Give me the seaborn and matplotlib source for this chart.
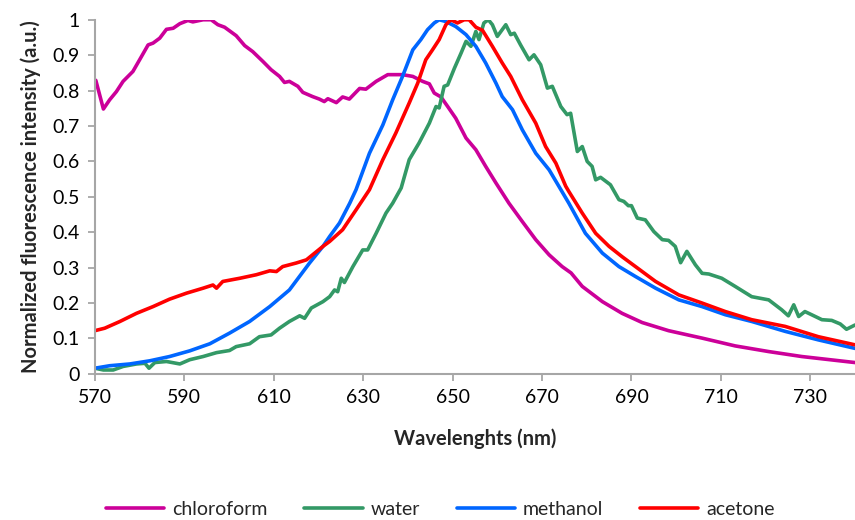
import numpy as np
import pandas as pd
import matplotlib
matplotlib.use("Agg")
import matplotlib.pyplot as plt
import seaborn as sns

# spectra (wavelength in nm, normalized intensity)
chloroform_nm = [570.2, 571.9, 573.3, 574.8, 576.3, 578.5, 580.0, 581.9, 583.0, 584.5,
                 586.0, 587.5, 589.0, 590.8, 591.9, 594.2, 596.0, 597.5, 599.0, 601.6,
                 603.5, 605.3, 607.6, 609.4, 611.3, 612.4, 613.5, 615.4, 616.5, 618.7,
                 620.2, 621.3, 622.1, 624.0, 625.4, 626.9, 629.2, 630.6, 632.9, 635.5,
                 638.8, 641.1, 643.3, 644.8, 645.9, 647.4, 648.9, 650.7, 653.0, 655.2,
                 657.4, 659.7, 662.6, 665.6, 668.6, 671.6, 674.5, 676.5, 679.0, 683.5,
                 687.9, 692.4, 698.3, 705.8, 713.2, 720.7, 728.1, 740.0]
chloroform_y = [0.829, 0.748, 0.774, 0.797, 0.826, 0.854, 0.887, 0.929, 0.934, 0.948,
                0.973, 0.976, 0.989, 0.998, 0.994, 1.000, 1.000, 0.986, 0.979, 0.955,
                0.927, 0.910, 0.882, 0.859, 0.840, 0.823, 0.826, 0.812, 0.795, 0.783,
                0.776, 0.769, 0.777, 0.766, 0.782, 0.776, 0.806, 0.804, 0.826, 0.845,
                0.845, 0.840, 0.826, 0.819, 0.793, 0.782, 0.755, 0.722, 0.666, 0.633,
                0.586, 0.539, 0.482, 0.430, 0.379, 0.336, 0.303, 0.285, 0.247, 0.204,
                0.171, 0.145, 0.122, 0.101, 0.079, 0.063, 0.049, 0.032]

water_nm = [570.0, 571.9, 574.1, 576.3, 579.3, 581.2, 582.1, 583.4, 586.0, 589.0,
            591.2, 594.2, 597.2, 600.1, 601.6, 604.6, 606.8, 609.4, 611.3, 613.5,
            615.8, 616.9, 618.4, 621.0, 622.5, 623.6, 624.3, 625.1, 625.8, 627.7,
            629.9, 631.0, 632.9, 635.1, 636.6, 638.5, 640.3, 642.5, 644.8, 646.3,
            647.0, 648.1, 648.9, 650.4, 651.9, 653.0, 654.1, 655.2, 655.9, 657.0,
            658.0, 658.9, 660.0, 661.9, 663.0, 663.8, 665.2, 667.1, 668.2, 669.7,
            671.2, 672.3, 674.2, 675.6, 676.4, 677.9, 679.0, 680.1, 681.2, 682.0,
            683.1, 685.3, 687.2, 688.3, 689.3, 690.0, 691.3, 693.1, 695.0, 696.9,
            698.3, 699.8, 701.0, 702.4, 704.3, 705.8, 707.3, 710.2, 713.2, 716.9,
            720.7, 723.6, 725.1, 726.3, 727.4, 728.8, 730.3, 732.6, 734.8, 736.7,
            738.1, 740.0]
water_y = [0.016, 0.011, 0.011, 0.021, 0.028, 0.030, 0.016, 0.032, 0.035, 0.028,
           0.040, 0.049, 0.060, 0.066, 0.077, 0.085, 0.105, 0.110, 0.129, 0.148,
           0.164, 0.157, 0.186, 0.204, 0.218, 0.237, 0.232, 0.270, 0.258, 0.303,
           0.350, 0.350, 0.397, 0.454, 0.482, 0.525, 0.605, 0.652, 0.708, 0.755,
           0.751, 0.812, 0.816, 0.863, 0.906, 0.939, 0.925, 0.967, 0.944, 0.991,
           1.000, 0.986, 0.953, 0.986, 0.958, 0.962, 0.929, 0.887, 0.901, 0.873,
           0.807, 0.812, 0.755, 0.732, 0.736, 0.628, 0.642, 0.600, 0.586, 0.548,
           0.555, 0.534, 0.492, 0.487, 0.475, 0.475, 0.440, 0.435, 0.402, 0.379,
           0.377, 0.360, 0.314, 0.346, 0.308, 0.284, 0.282, 0.270, 0.247, 0.218,
           0.209, 0.181, 0.164, 0.195, 0.162, 0.176, 0.167, 0.153, 0.151, 0.141,
           0.126, 0.138]

methanol_nm = [570.0, 573.3, 577.8, 582.3, 586.7, 591.2, 595.7, 600.1, 604.6, 609.1,
               613.5, 618.0, 621.0, 622.5, 624.7, 627.0, 628.4, 631.4, 634.4, 636.6,
               638.8, 641.1, 642.9, 644.4, 645.9, 647.0, 648.5, 650.7, 653.0, 655.2,
               657.4, 659.7, 661.1, 663.4, 665.6, 668.6, 671.6, 673.8, 676.0, 679.7,
               683.5, 687.2, 690.9, 695.4, 700.6, 705.8, 711.0, 716.9, 724.4, 731.8,
               740.0]
methanol_y = [0.016, 0.023, 0.028, 0.037, 0.049, 0.065, 0.085, 0.115, 0.148, 0.190,
              0.237, 0.313, 0.360, 0.388, 0.426, 0.482, 0.520, 0.623, 0.703, 0.774,
              0.840, 0.915, 0.944, 0.972, 0.991, 1.000, 0.995, 0.981, 0.958, 0.925,
              0.878, 0.821, 0.783, 0.746, 0.689, 0.623, 0.576, 0.529, 0.482, 0.397,
              0.341, 0.303, 0.275, 0.242, 0.209, 0.190, 0.167, 0.148, 0.120, 0.096,
              0.072]

acetone_nm = [570.0, 572.2, 575.6, 579.3, 583.0, 586.7, 590.5, 594.2, 596.4, 597.2,
              598.6, 602.4, 606.1, 609.1, 610.6, 612.0, 615.0, 617.3, 621.0, 622.5,
              625.4, 628.4, 631.4, 634.4, 637.3, 640.3, 642.2, 644.0, 645.5, 647.0,
              648.5, 649.6, 651.1, 652.6, 653.7, 655.2, 656.7, 658.9, 661.1, 663.0,
              665.6, 668.6, 670.8, 673.1, 675.3, 676.0, 679.0, 682.0, 685.0, 687.9,
              690.9, 695.4, 700.6, 705.8, 711.0, 716.9, 724.4, 731.8, 740.0]
acetone_y = [0.122, 0.129, 0.148, 0.171, 0.190, 0.211, 0.228, 0.242, 0.251, 0.242,
             0.261, 0.270, 0.280, 0.291, 0.289, 0.303, 0.313, 0.322, 0.360, 0.374,
             0.407, 0.463, 0.520, 0.605, 0.680, 0.765, 0.821, 0.887, 0.915, 0.944,
             0.986, 1.000, 0.991, 1.000, 1.000, 0.979, 0.970, 0.925, 0.878, 0.840,
             0.774, 0.708, 0.642, 0.595, 0.530, 0.515, 0.454, 0.397, 0.360, 0.331,
             0.303, 0.261, 0.223, 0.200, 0.176, 0.153, 0.134, 0.105, 0.082]

solvents = ["chloroform", "water", "methanol", "acetone"]
colors = ["#CC0099", "#339966", "#0066FF", "#FF0000"]
x_ticks = [570, 590, 610, 630, 650, 670, 690, 710, 730]

frames = []
for name, nm, y in [("chloroform", chloroform_nm, chloroform_y),
                    ("water", water_nm, water_y),
                    ("methanol", methanol_nm, methanol_y),
                    ("acetone", acetone_nm, acetone_y)]:
    frames.append(pd.DataFrame({"nm": nm, "intensity": y, "solvent": name}))
df = pd.concat(frames, ignore_index=True)

sns.set_theme(style="white")
plt.rcParams["font.family"] = ["Lato", "DejaVu Sans"]

fig = plt.figure(figsize=(8.55, 5.2), dpi=100)
ax = fig.add_axes([0.111, 0.281, 0.889, 0.681])

sns.lineplot(data=df, x="nm", y="intensity", hue="solvent", hue_order=solvents,
             palette=colors, sort=False, estimator=None, linewidth=2.6, ax=ax)

ax.set_xlim(570, 740)
ax.set_ylim(0, 1)
ax.set_xticks(x_ticks)
ax.set_yticks(np.arange(0, 1.01, 0.1))
ax.yaxis.set_major_formatter(matplotlib.ticker.FuncFormatter(lambda v, p: f"{v:g}"))
ax.tick_params(axis="both", labelsize=14, colors="#A6A6A6", labelcolor="black",
               length=5, width=1.3, direction="out", bottom=True, left=True, pad=6)
for side in ["top", "right"]:
    ax.spines[side].set_visible(False)
for side in ["left", "bottom"]:
    ax.spines[side].set_color("#A6A6A6")
    ax.spines[side].set_linewidth(1.5)

ax.set_xlabel("Wavelenghts (nm)", fontsize=14.5, fontweight="bold", labelpad=16)
ax.set_ylabel("Normalized fluorescence intensity (a.u.)", fontsize=14.5,
              fontweight="bold", labelpad=8)

ax.legend_.remove()
handles = ax.get_lines()[:4]
fig.legend(handles, solvents, loc="center", bbox_to_anchor=(0.515, 0.02),
           ncol=4, frameon=False, fontsize=14, handlelength=3.0,
           columnspacing=1.9, handletextpad=0.4)

fig.savefig("out.png", dpi=100)
